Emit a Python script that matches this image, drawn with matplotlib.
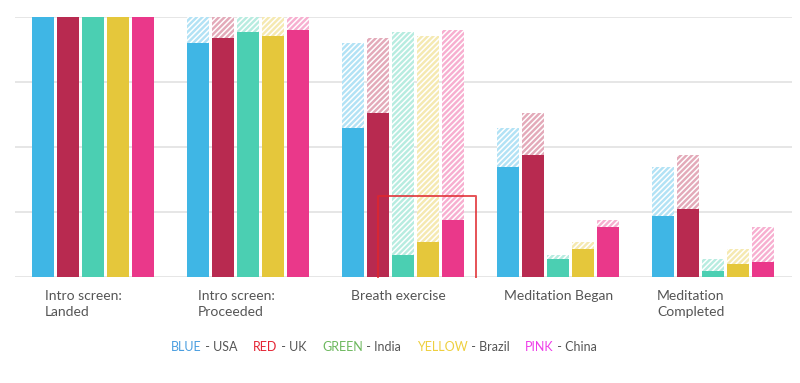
import matplotlib.pyplot as plt
import numpy as np
from matplotlib.colors import to_rgb

plt.rcParams['font.family'] = ['Lato', 'DejaVu Sans']
plt.rcParams['hatch.linewidth'] = 1.1

steps = ['Intro screen:\nLanded', 'Intro screen:\nProceeded', 'Breath exercise',
         'Meditation Began', 'Meditation\nCompleted']
countries = ['USA', 'UK', 'India', 'Brazil', 'China']
# % of users still in the funnel at each step
usa = [100, 90.1, 57.2, 42.2, 23.6]
uk = [100, 91.8, 63.2, 46.7, 26.0]
india = [100, 94.2, 8.5, 6.8, 2.3]
brazil = [100, 92.6, 13.4, 10.8, 4.9]
china = [100, 95.0, 21.7, 19.0, 5.8]
series = [usa, uk, india, brazil, china]

colors = ['#3fb6e5', '#b82a50', '#4bcfb2', '#e5c73b', '#ea388a']
legend_names = ['BLUE', 'RED', 'GREEN', 'YELLOW', 'PINK']
legend_colors = ['#4a9ee0', '#e42535', '#6db85e', '#eecf3f', '#ee3de8']

def light(c, a=0.4):
    r = np.array(to_rgb(c))
    return tuple(1 - a * (1 - r))

fig = plt.figure(figsize=(8, 3.83), dpi=100)
ax = fig.add_axes([0.019, 0.277, 0.971, 0.679])

x = np.arange(len(steps))
w = 0.139
sp = 0.161
for k, (vals, c) in enumerate(zip(series, colors)):
    vals = np.array(vals)
    prev = np.concatenate([[vals[0]], vals[:-1]])
    pos = x + (k - 2) * sp
    ax.bar(pos, prev, w, color=light(c), edgecolor='white', hatch='//////',
           linewidth=0, zorder=2)
    ax.bar(pos, vals, w, color=c, linewidth=0, zorder=3)

# highlight box (open at the bottom)
ax.plot([1.84, 1.84, 2.47, 2.47], [0, 31, 31, 0], color='#e0262c', lw=1.4,
        alpha=0.8, zorder=4, clip_on=False)

ax.set_xlim(-0.503, 4.51)
ax.set_ylim(0, 100)
for v in [0, 25, 50, 75, 100]:
    ax.axhline(v, color='#e4e4e4', lw=1.3, zorder=1)
for s in ax.spines.values():
    s.set_visible(False)
ax.set_xticks([])
ax.set_yticks([])

for i, s in enumerate(steps):
    ax.text(i * 0.987 - 0.31, -5.0, s, ha='left', va='top', fontsize=10,
            color='#555555', linespacing=1.45)

# colour-word legend
lx = 0.214
for name, col, ctry in zip(legend_names, legend_colors, countries):
    t = fig.text(lx, 0.094, name, color=col, fontsize=9, va='center')
    fig.canvas.draw()
    bb = t.get_window_extent()
    t2 = fig.text(bb.x1 / fig.bbox.width, 0.094, ' - ' + ctry, color='#555555',
                  fontsize=9, va='center')
    fig.canvas.draw()
    bb2 = t2.get_window_extent()
    lx = bb2.x1 / fig.bbox.width + 0.02

fig.savefig('out.png', dpi=100)
